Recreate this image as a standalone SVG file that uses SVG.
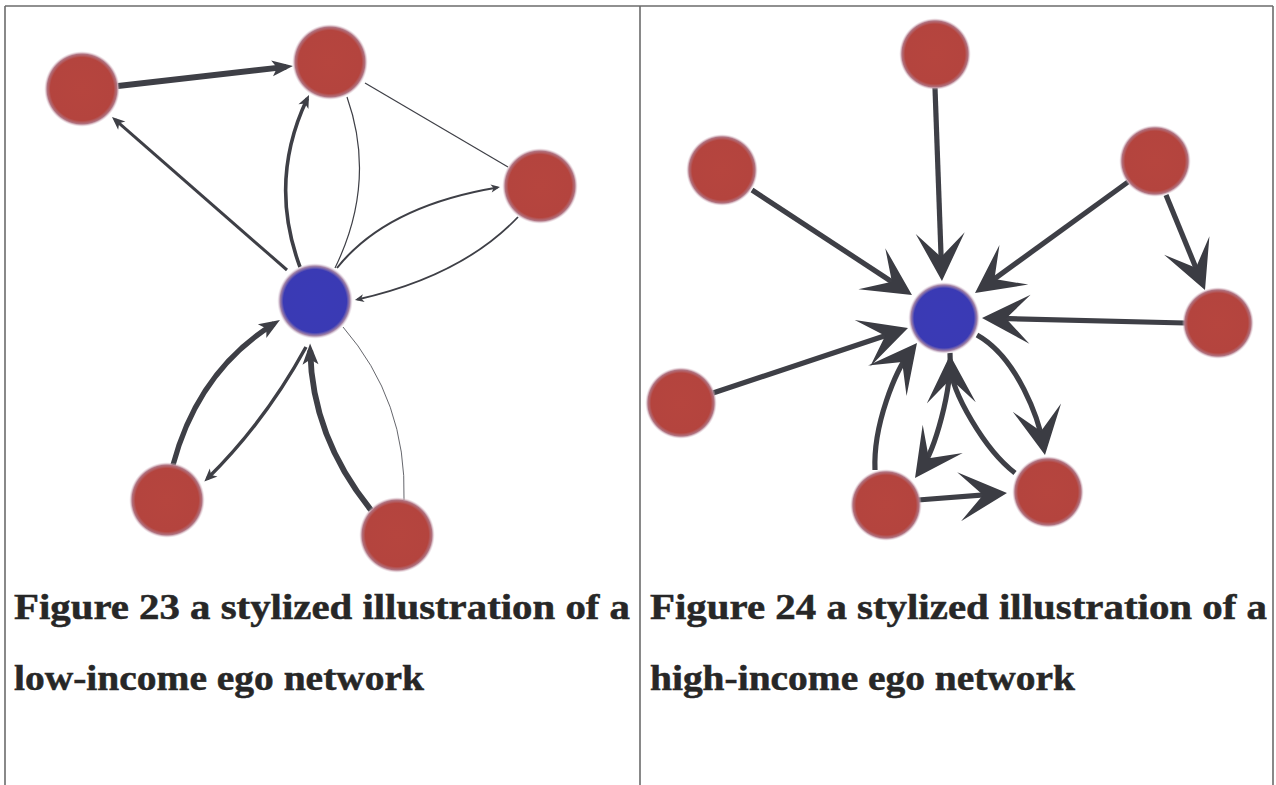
<svg xmlns="http://www.w3.org/2000/svg" width="1276" height="785" viewBox="0 0 1276 785">
<style>
.frame{stroke:#6b6b6b;stroke-width:1.6;fill:none}
.e{fill:none;stroke:#3e3f46;stroke-linecap:butt}
.cap{font-family:"Liberation Serif","Times New Roman",serif;font-weight:bold;font-size:35px;fill:#272727;stroke:#272727;stroke-width:0.5}
</style>
<defs>
<radialGradient id="gRed" cx="0.5" cy="0.5" r="0.5">
<stop offset="0" stop-color="#b6453e"/>
<stop offset="0.83" stop-color="#b4443e"/>
<stop offset="0.92" stop-color="#b07381"/>
<stop offset="1" stop-color="#e9d9e2" stop-opacity="0"/>
</radialGradient>
<radialGradient id="gBlue" cx="0.5" cy="0.5" r="0.5">
<stop offset="0" stop-color="#3a3ab6"/>
<stop offset="0.83" stop-color="#3a3ab4"/>
<stop offset="0.92" stop-color="#a585a6"/>
<stop offset="1" stop-color="#ece0ea" stop-opacity="0"/>
</radialGradient>
<marker id="mL" viewBox="-23 -10 25 20" refX="-7" refY="0" markerWidth="25" markerHeight="20" markerUnits="userSpaceOnUse" orient="auto">
<path d="M0,0 L-21,-8 L-16,0 L-21,8 Z" fill="#3e3f46"/>
</marker>
<marker id="mM" viewBox="-15 -7 17 14" refX="-4" refY="0" markerWidth="17" markerHeight="14" markerUnits="userSpaceOnUse" orient="auto">
<path d="M0,0 L-13,-5.5 L-9.5,0 L-13,5.5 Z" fill="#3e3f46"/>
</marker>
<marker id="mS" viewBox="-11 -5 12 10" refX="-2.5" refY="0" markerWidth="12" markerHeight="10" markerUnits="userSpaceOnUse" orient="auto">
<path d="M0,0 L-9,-4 L-6.5,0 L-9,4 Z" fill="#3e3f46"/>
</marker>
<marker id="mR" viewBox="-51 -26 53 52" refX="-10" refY="0" markerWidth="53" markerHeight="52" markerUnits="userSpaceOnUse" orient="auto">
<path d="M0,0 L-48,-24.5 L-24,0 L-48,24.5 Z" fill="#3b3c43"/>
</marker>
</defs>

<g id="frame">
<line class="frame" x1="5" y1="6" x2="1273" y2="6"/>
<line class="frame" x1="5" y1="6" x2="5" y2="785"/>
<line class="frame" x1="640" y1="6" x2="640" y2="785"/>
<line class="frame" x1="1273" y1="6" x2="1273" y2="785"/>
</g>

<g id="connectors">
<!-- left panel -->
<path class="e" d="M118,86 L286,66.8" stroke-width="5.8" marker-end="url(#mL)"/>
<path class="e" d="M287,270 L115,119.6" stroke-width="3" marker-end="url(#mM)"/>
<path class="e" d="M300,267 Q268,181 307.3,98.6" stroke-width="3.6" marker-end="url(#mM)"/>
<path class="e" d="M347,97 Q377,182 335,268" stroke-width="1.2"/>
<path class="e" d="M365,83 L508,167" stroke-width="1.2"/>
<path class="e" d="M337,268 Q386,206 497.5,187.4" stroke-width="2" marker-end="url(#mS)"/>
<path class="e" d="M518,217 Q462,276 357.4,299.5" stroke-width="1.8" marker-end="url(#mS)"/>
<path class="e" d="M173,465 Q198,371 274,323.7" stroke-width="5.2" marker-end="url(#mL)"/>
<path class="e" d="M306,347 Q265,422 207.2,478.8" stroke-width="3.5" marker-end="url(#mM)"/>
<path class="e" d="M371,510 Q312,437 310.2,350.5" stroke-width="5.8" marker-end="url(#mL)"/>
<path class="e" d="M343,327 Q407,401 404,500" stroke-width="0.8"/>
<!-- right panel -->
<path class="e" d="M935,88 L941.6,271" stroke-width="5.2" marker-end="url(#mR)"/>
<path class="e" d="M752,190 L903.6,289.5" stroke-width="5.2" marker-end="url(#mR)"/>
<path class="e" d="M1128,182 L983.1,287.1" stroke-width="5.2" marker-end="url(#mR)"/>
<path class="e" d="M1166,195 L1201.2,280.7" stroke-width="5.2" marker-end="url(#mR)"/>
<path class="e" d="M1185,323 L992,318.2" stroke-width="5.2" marker-end="url(#mR)"/>
<path class="e" d="M713,393 L898.5,331.2" stroke-width="5.2" marker-end="url(#mR)"/>
<path class="e" d="M875,470 C873,425 895.3,370.6 910.8,350.9" stroke-width="5.2" marker-end="url(#mR)"/>
<path class="e" d="M950,353 C952,390 935.2,449.4 920.8,469.8" stroke-width="5.2" marker-end="url(#mR)"/>
<path class="e" d="M1015,473 C985,450 951,392 950.3,365" stroke-width="5.2" marker-end="url(#mR)"/>
<path class="e" d="M977,335 C1018,358 1039.1,420.5 1043.3,445.1" stroke-width="5.2" marker-end="url(#mR)"/>
<path class="e" d="M918,500 L997,493.8" stroke-width="5.2" marker-end="url(#mR)"/>
</g>

<g id="n-L-topleft"><circle cx="82" cy="89" r="38" fill="url(#gRed)"/></g>
<g id="n-L-top"><circle cx="330" cy="62" r="38" fill="url(#gRed)"/></g>
<g id="n-L-right"><circle cx="540" cy="186" r="38" fill="url(#gRed)"/></g>
<g id="n-L-ego"><circle cx="315" cy="301" r="38" fill="url(#gBlue)"/></g>
<g id="n-L-bottomleft"><circle cx="167" cy="500" r="38" fill="url(#gRed)"/></g>
<g id="n-L-bottomright"><circle cx="397" cy="535" r="38" fill="url(#gRed)"/></g>

<g id="n-R-top"><circle cx="935" cy="54" r="36" fill="url(#gRed)"/></g>
<g id="n-R-lefttop"><circle cx="722" cy="170" r="36" fill="url(#gRed)"/></g>
<g id="n-R-righttop"><circle cx="1155" cy="161" r="36" fill="url(#gRed)"/></g>
<g id="n-R-ego"><circle cx="944" cy="318" r="36" fill="url(#gBlue)"/></g>
<g id="n-R-rightmid"><circle cx="1218" cy="323" r="36" fill="url(#gRed)"/></g>
<g id="n-R-leftlow"><circle cx="681" cy="403" r="36" fill="url(#gRed)"/></g>
<g id="n-R-bottomleft"><circle cx="886" cy="505" r="36" fill="url(#gRed)"/></g>
<g id="n-R-bottomright"><circle cx="1048" cy="492" r="36" fill="url(#gRed)"/></g>

<g id="captions">
<text class="cap" x="14" y="619" textLength="616" lengthAdjust="spacingAndGlyphs">Figure 23 a stylized illustration of a</text>
<text class="cap" x="14" y="690" textLength="410" lengthAdjust="spacingAndGlyphs">low-income ego network</text>
<text class="cap" x="650" y="619" textLength="617" lengthAdjust="spacingAndGlyphs">Figure 24 a stylized illustration of a</text>
<text class="cap" x="650" y="690" textLength="425" lengthAdjust="spacingAndGlyphs">high-income ego network</text>
</g>
</svg>
